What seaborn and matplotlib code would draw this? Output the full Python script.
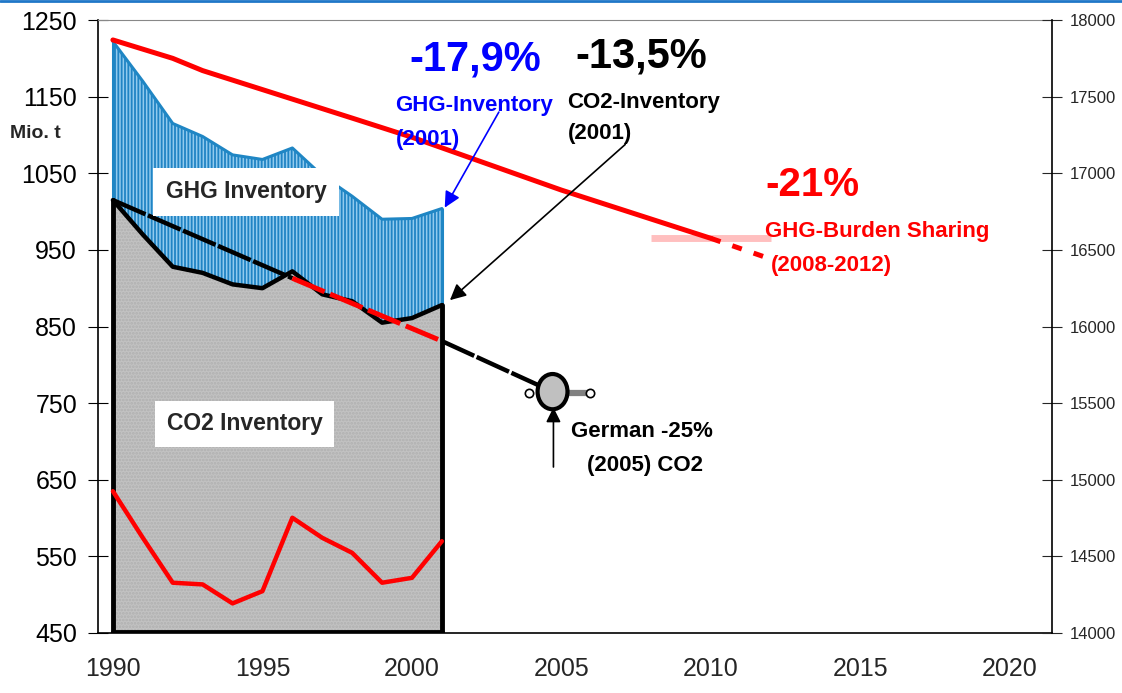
import matplotlib
matplotlib.use("Agg")
import matplotlib.pyplot as plt
from matplotlib.patches import Ellipse
import seaborn as sns

# inventories (Mio. t, left axis)
years = [1990, 1991, 1992, 1993, 1994, 1995, 1996, 1997, 1998, 1999, 2000, 2001]
ghg = [1222, 1170, 1115, 1098, 1074, 1068, 1083, 1047, 1020, 990, 991, 1004]
co2 = [1015, 970, 928, 920, 905, 900, 922, 892, 883, 855, 861, 878]

# burden sharing path to -21% (left axis)
path_years = [1990, 1992, 1993, 1998, 2000, 2005, 2010]
path_vals = [1224, 1200, 1184, 1122, 1097, 1028, 965]
path_ext_years = [2010, 2012]
path_ext_vals = [965, 938]
band_years = [2008, 2012]
band_vals = [965, 965]

# German CO2 target -25% by 2005 (left axis)
target_years = [1990, 1996, 2001, 2004.7]
target_vals = [1015, 913, 831, 765]

# lower red series (right axis)
low_vals = [14925, 14621, 14328, 14317, 14193, 14273, 14752, 14621, 14523, 14328, 14360, 14599]

sns.set_style("white")
plt.rcParams['font.family'] = ['Liberation Sans', 'DejaVu Sans']
plt.rcParams['hatch.linewidth'] = 1.3

fig = plt.figure(figsize=(11.22, 6.93), dpi=100)
ax = fig.add_axes([0.0873, 0.0866, 0.8503, 0.8845])
ax.set_xlim(1989.5, 2021.4)
ax.set_ylim(450, 1250)

# areas
ax.fill_between(years, co2, ghg, facecolor='#92cbee', edgecolor='#2084c4',
                hatch='|||||', linewidth=0, zorder=1)
ax.fill_between(years, 450, co2, facecolor='#c2c2c2', edgecolor='#b0b0b0',
                hatch='.....', linewidth=0, zorder=2)

sns.lineplot(x=years, y=ghg, ax=ax, color='#1f86c4', linewidth=2.2, zorder=3)
ax.plot([1990, 1990], [co2[0], ghg[0]], color='#1f86c4', lw=2.2, zorder=3)
ax.plot([2001, 2001], [co2[-1], ghg[-1]], color='#1f86c4', lw=2.2, zorder=3)

sns.lineplot(x=years, y=co2, ax=ax, color='black', linewidth=3.2, zorder=4)
ax.plot([1990, 1990], [450, co2[0]], color='black', lw=3.5, zorder=4)
ax.plot([2001, 2001], [450, co2[-1]], color='black', lw=3.5, zorder=4)
ax.plot([1990, 2001], [451, 451], color='black', lw=3.5, zorder=4)

# burden sharing path
ax.plot(band_years, band_vals, color='#ffb0b0', lw=5, alpha=0.8, zorder=3,
        solid_capstyle='butt')
sns.lineplot(x=path_years, y=path_vals, ax=ax, color='red', linewidth=3.6, zorder=5)
ax.plot(path_ext_years, path_ext_vals, color='red', lw=3.6, zorder=5,
        linestyle=(0, (2, 2.5)))

# German target line
ax.plot(target_years[:2], target_vals[:2], color='black', lw=3.2, zorder=5,
        linestyle=(0, (8, 0.6)))
ax.plot(target_years[1:3], target_vals[1:3], color='red', lw=3.6, zorder=6,
        linestyle=(0, (7, 1.2)))
ax.plot(target_years[2:], target_vals[2:], color='black', lw=3.2, zorder=5,
        linestyle=(0, (8, 0.6)))

# target marker with whisker
ax.plot([2005.2, 2005.95], [763, 763], color='#808080', lw=4.5, zorder=6)
ax.plot([2003.9, 2005.95], [763, 763], linestyle='none', marker='o', ms=6,
        mfc='white', mec='black', mew=1.2, zorder=7)
ax.add_patch(Ellipse((2004.7, 765), 1.0, 46, facecolor='#c0c0c0',
                     edgecolor='black', lw=3, zorder=8))
ax.annotate('', xy=(2004.73, 748), xytext=(2004.73, 663),
            arrowprops=dict(arrowstyle='-|>', color='black', lw=1.2,
                            mutation_scale=22), zorder=9)

# lower red series on right axis
ax2 = ax.twinx()
ax2.set_ylim(14000, 18000)
sns.lineplot(x=years, y=low_vals, ax=ax2, color='red', linewidth=3.2)
ax2.set_xlim(1989.5, 2021.4)

# texts
bold = dict(fontweight='bold')
ax.text(1994.46, 1026, 'GHG Inventory', fontsize=16.5, ha='center', va='center',
        bbox=dict(boxstyle='square,pad=0.55', fc='white', ec='none'), zorder=9, **bold)
ax.text(1994.4, 723, 'CO2 Inventory', fontsize=16.5, ha='center', va='center',
        bbox=dict(boxstyle='square,pad=0.5', fc='white', ec='none'), zorder=9, **bold)

ax.text(2002.1, 1198, '-17,9%', fontsize=30, color='#0000ff', ha='center', va='center',
        zorder=9, **bold)
ax.text(1999.45, 1139, 'GHG-Inventory', fontsize=16, color='#0000ff', ha='left',
        va='center', zorder=9, **bold)
ax.text(1999.45, 1094, '(2001)', fontsize=16, color='#0000ff', ha='left',
        va='center', zorder=9, **bold)
ax.annotate('', xy=(2001.05, 1002), xytext=(2002.95, 1133),
            arrowprops=dict(arrowstyle='-|>', color='#0000ff', lw=1.2,
                            mutation_scale=24), zorder=9)

ax.text(2007.66, 1202, '-13,5%', fontsize=30, color='black', ha='center', va='center',
        zorder=9, **bold)
ax.text(2005.2, 1142, 'CO2-Inventory', fontsize=16, color='black', ha='left',
        va='center', zorder=9, **bold)
ax.text(2005.2, 1102, '(2001)', fontsize=16, color='black', ha='left',
        va='center', zorder=9, **bold)
ax.annotate('', xy=(2001.2, 882), xytext=(2007.2, 1090),
            arrowprops=dict(arrowstyle='-|>', color='black', lw=1.2,
                            mutation_scale=24), zorder=9)

ax.text(2013.4, 1035, '-21%', fontsize=29, color='red', ha='center', va='center',
        zorder=9, **bold)
ax.text(2011.8, 974, 'GHG-Burden Sharing', fontsize=16, color='red', ha='left',
        va='center', zorder=9, **bold)
ax.text(2012.0, 930, '(2008-2012)', fontsize=16, color='red', ha='left',
        va='center', zorder=9, **bold)

ax.text(2007.7, 713, 'German -25%', fontsize=16, color='black', ha='center',
        va='center', zorder=9, **bold)
ax.text(2007.8, 668, '(2005) CO2', fontsize=16, color='black', ha='center',
        va='center', zorder=9, **bold)

fig.text(0.009, 0.808, 'Mio. t', fontsize=14, fontweight='bold', ha='left', va='center')

# axes styling
ax.set_xticks(range(1990, 2021, 5))
ax.set_yticks(range(450, 1251, 100))
ax2.set_yticks(range(14000, 18001, 500))
ax.set_xlabel('')
ax.set_ylabel('')
ax2.set_ylabel('')
ax.tick_params(axis='y', direction='inout', length=14, width=0.8, labelsize=18,
               pad=8, left=True, colors='black')
ax.tick_params(axis='x', length=0, labelsize=18, pad=17)
ax2.tick_params(axis='y', direction='inout', length=14, width=0.8, labelsize=12,
                pad=6, right=True)

for sp in ['left', 'bottom']:
    ax.spines[sp].set_color('black')
    ax.spines[sp].set_linewidth(1.2)
ax.spines['right'].set_visible(False)
ax.spines['top'].set_color('#888888')
ax2.spines['right'].set_color('black')
ax2.spines['right'].set_linewidth(1.2)
ax2.spines['left'].set_visible(False)
ax2.spines['bottom'].set_visible(False)
ax2.spines['top'].set_visible(False)

fig.add_artist(plt.Line2D([0, 1], [0.998, 0.998], color='#1f77c8', lw=2))

fig.savefig('out.png', dpi=100)
